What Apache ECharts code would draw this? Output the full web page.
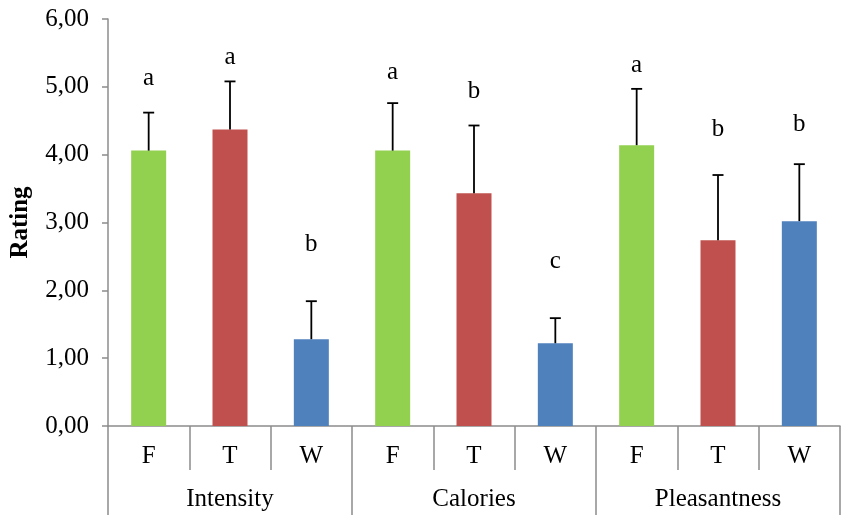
<!DOCTYPE html>
<html>
<head>
<meta charset="utf-8">
<script src="https://cdn.jsdelivr.net/npm/echarts@6/dist/echarts.min.js"></script>
<style>
html,body{margin:0;padding:0;background:#fff;}
#chart{width:847px;height:515px;}
</style>
</head>
<body>
<div id="chart"></div>
<script>
var groups = ['Intensity', 'Calories', 'Pleasantness'];
var conditions = ['F', 'T', 'W'];
var means = [4.06, 4.37, 1.28, 4.06, 3.43, 1.22, 4.14, 2.74, 3.02];
var errors = [0.56, 0.71, 0.56, 0.70, 1.00, 0.37, 0.83, 0.96, 0.84];
var letters = ['a', 'a', 'b', 'a', 'b', 'c', 'a', 'b', 'b'];
var letterY = [5.12, 5.44, 2.68, 5.21, 4.93, 2.42, 5.31, 4.37, 4.44];
var yTicks = [0, 1, 2, 3, 4, 5, 6];

var colors = {F: '#92D050', T: '#C0504D', W: '#4F81BD'};
var axisGray = '#8c8c8c';
var serif = '"Liberation Serif", "DejaVu Serif", serif';
var fs = 25;

var cats = [];
groups.forEach(function (g) {
  conditions.forEach(function (c) { cats.push(g + '|' + c); });
});

var barData = means.map(function (m, i) {
  var c = cats[i].split('|')[1];
  return {value: m, itemStyle: {color: colors[c]}};
});
var errData = means.map(function (m, i) { return [i, m, errors[i]]; });
var letterData = letterY.map(function (y, i) { return [i, y]; });

var chart = echarts.init(document.getElementById('chart'), null, {renderer: 'canvas'});
chart.setOption({
  animation: false,
  backgroundColor: '#fff',
  grid: {left: 108, right: 7, top: 19, bottom: 89, containLabel: false, outerBoundsMode: 'none'},
  xAxis: [{
    type: 'category',
    data: cats,
    position: 'bottom',
    axisLine: {show: true, lineStyle: {color: axisGray, width: 1.5}},
    axisTick: {show: true, interval: 0, length: 44, lineStyle: {color: axisGray, width: 1.5}},
    axisLabel: {
      interval: 0, margin: 18, fontSize: fs, fontFamily: serif, color: '#000',
      formatter: function (v) { return v.split('|')[1]; }
    },
    splitLine: {show: false}
  }, {
    type: 'category',
    data: groups,
    position: 'bottom',
    axisLine: {show: false},
    axisTick: {show: true, interval: 0, length: 92, lineStyle: {color: axisGray, width: 1.5}},
    axisLabel: {interval: 0, margin: 61, fontSize: fs, fontFamily: serif, color: '#000'},
    splitLine: {show: false}
  }],
  yAxis: {
    type: 'value',
    min: 0, max: 6, interval: 1,
    name: 'Rating',
    nameLocation: 'middle',
    nameGap: 75,
    nameMoveOverlap: false,
    nameTextStyle: {fontSize: fs, fontWeight: 'bold', fontFamily: serif, color: '#000'},
    axisLine: {show: true, lineStyle: {color: axisGray, width: 1.5}},
    axisTick: {show: true, length: 6, inside: false, lineStyle: {color: axisGray, width: 1.5}},
    axisLabel: {
      margin: 19, fontSize: fs, fontFamily: serif, color: '#000',
      customValues: yTicks,
      formatter: function (v) { return v.toFixed(2).replace('.', ','); }
    },
    splitLine: {show: false}
  },
  series: [{
    type: 'bar',
    xAxisIndex: 0,
    data: barData,
    barWidth: 35,
    z: 2
  }, {
    type: 'custom',
    xAxisIndex: 0,
    data: errData,
    encode: {x: 0, y: [1, 2]},
    z: 3,
    renderItem: function (params, api) {
      var i = api.value(0);
      var m = api.value(1);
      var e = api.value(2);
      var base = api.coord([i, m]);
      var top = api.coord([i, m + e]);
      var style = {stroke: '#000', lineWidth: 1.8};
      return {
        type: 'group',
        children: [{
          type: 'line',
          shape: {x1: base[0], y1: base[1], x2: top[0], y2: top[1]},
          style: style
        }, {
          type: 'line',
          shape: {x1: top[0] - 5.5, y1: top[1], x2: top[0] + 5.5, y2: top[1]},
          style: style
        }]
      };
    }
  }, {
    type: 'custom',
    xAxisIndex: 0,
    data: letterData,
    encode: {x: 0, y: 1},
    z: 4,
    renderItem: function (params, api) {
      var p = api.coord([api.value(0), api.value(1)]);
      return {
        type: 'text',
        x: p[0], y: p[1],
        style: {
          text: letters[params.dataIndex],
          fill: '#000',
          font: fs + 'px ' + serif,
          align: 'center',
          verticalAlign: 'middle'
        }
      };
    }
  }]
});
</script>
</body>
</html>
